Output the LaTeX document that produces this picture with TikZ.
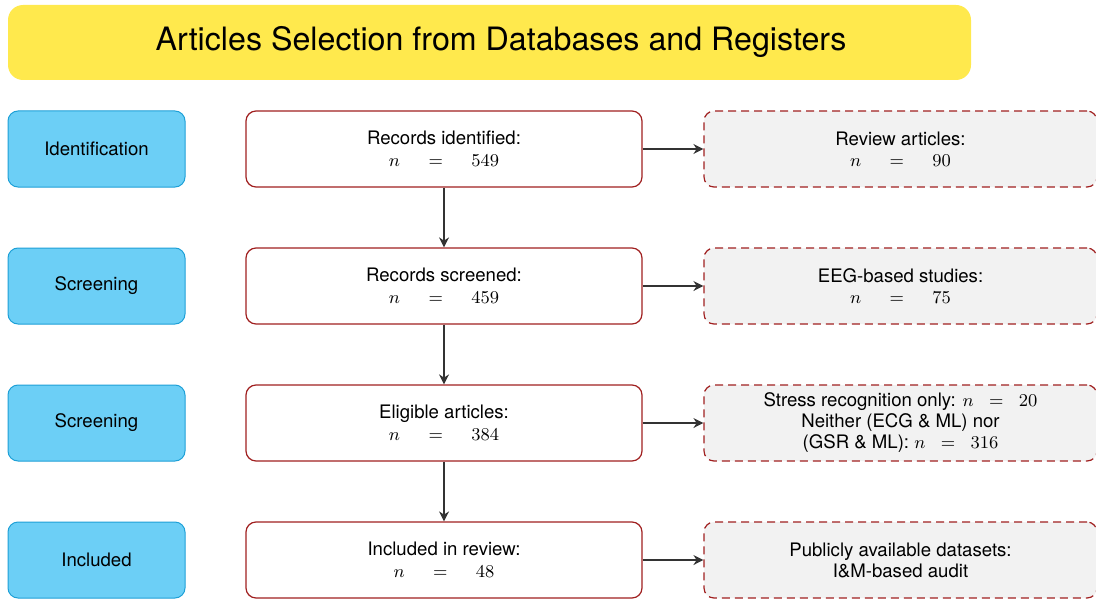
\documentclass[tikz,border=0pt]{standalone}
\usepackage{fontspec}
\setmainfont{TeX Gyre Heros}
\usetikzlibrary{arrows.meta}

\definecolor{titleyellow}{RGB}{255,233,77}
\definecolor{stagefill}{RGB}{108,207,246}
\definecolor{stageline}{RGB}{30,160,215}
\definecolor{boxred}{RGB}{160,32,32}
\definecolor{exclfill}{RGB}{242,242,242}
\definecolor{arrowgray}{RGB}{51,51,51}

\newcommand{\eqn}[1]{$n\hspace{1.25em}=\hspace{1.25em}#1$}
\newcommand{\eqs}[1]{$n\hspace{0.55em}=\hspace{0.55em}#1$}

\tikzset{
  titlebox/.style={fill=titleyellow, rounded corners=7.5pt, minimum width=481.5pt,
    minimum height=37.5pt, inner sep=0pt},
  stagebox/.style={draw=stageline, fill=stagefill, line width=0.5pt, rounded corners=5pt,
    minimum width=88.5pt, minimum height=38pt, inner sep=0pt,
    font=\fontsize{9.3pt}{11pt}\selectfont},
  countbox/.style={draw=boxred, fill=white, line width=0.6pt, rounded corners=5pt,
    minimum width=198pt, minimum height=38pt, inner sep=0pt, align=center,
    font=\fontsize{9.3pt}{11pt}\selectfont},
  exclbox/.style={draw=boxred, fill=exclfill, line width=0.6pt, dashed,
    dash pattern=on 4pt off 2.5pt, rounded corners=5pt,
    minimum width=196.5pt, minimum height=38pt, inner sep=0pt, align=center,
    font=\fontsize{9.3pt}{10.5pt}\selectfont},
  flow/.style={draw=arrowgray, line width=1pt, -{Stealth[length=5pt,width=5pt]}}
}

\begin{document}
\begin{tikzpicture}[x=0.5pt, y=-0.5pt]
  \useasboundingbox (0,0) rectangle (1096,599);

  % heading
  \node[titlebox] (title) at (489.5,42.5) {};
  \node[font=\fontsize{16.1pt}{19pt}\selectfont] (titletext) at (501,42) {Articles Selection from Databases and Registers};

  % stage labels
  \node[stagebox] (s1) at (96.5,149) {Identification};
  \node[stagebox] (s2) at (96.5,286) {Screening};
  \node[stagebox] (s3) at (96.5,423) {Screening};
  \node[stagebox] (s4) at (96.5,560) {Included};

  % record counts
  \node[countbox] (c1) at (444,149) {Records identified:\\\eqn{549}};
  \node[countbox] (c2) at (444,286) {Records screened:\\\eqn{459}};
  \node[countbox] (c3) at (444,423) {Eligible articles:\\\eqn{384}};
  \node[countbox] (c4) at (444,560) {Included in review:\\\eqn{48}};

  % removed records
  \node[exclbox] (e1) at (900.5,149) {Review articles:\\\eqn{90}};
  \node[exclbox] (e2) at (900.5,286) {EEG-based studies:\\\eqn{75}};
  \node[exclbox] (e3) at (900.5,423) {Stress recognition only: \eqs{20}\\Neither (ECG \& ML) nor\\(GSR \& ML): \eqs{316}};
  \node[exclbox] (e4) at (900.5,560) {Publicly available datasets:\\I\&M-based audit};

  % flow
  \draw[flow] (c1) -- (c2);
  \draw[flow] (c2) -- (c3);
  \draw[flow] (c3) -- (c4);
  \draw[flow] (c1) -- (e1);
  \draw[flow] (c2) -- (e2);
  \draw[flow] (c3) -- (e3);
  \draw[flow] (c4) -- (e4);
\end{tikzpicture}
\end{document}
